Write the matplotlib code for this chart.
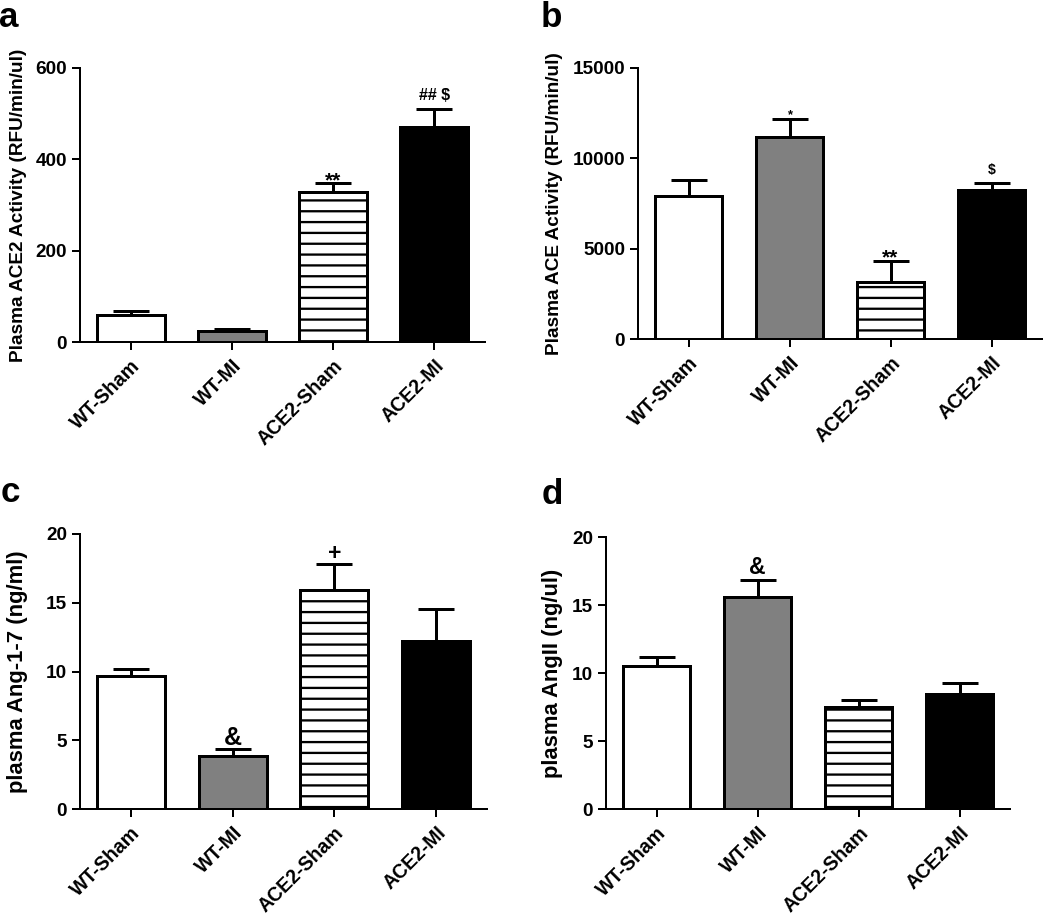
import matplotlib
matplotlib.use("Agg")
import matplotlib.pyplot as plt

# values
groups = ["WT-Sham", "WT-MI", "ACE2-Sham", "ACE2-MI"]

ace2_mean = [60, 23, 328, 470]
ace2_err = [8, 5, 20, 41]

ace_mean = [7900, 11200, 3150, 8230]
ace_err = [900, 1000, 1180, 400]

ang17_mean = [9.70, 3.83, 15.93, 12.22]
ang17_err = [0.48, 0.56, 1.89, 2.33]

ang2_mean = [10.55, 15.59, 7.47, 8.42]
ang2_err = [0.59, 1.28, 0.56, 0.81]

DPI = 130
PX = 72 / DPI  # one pixel in points

plt.rcParams["font.family"] = ["Liberation Sans", "DejaVu Sans"]
plt.rcParams["font.weight"] = "bold"
plt.rcParams["hatch.linewidth"] = 2.3 * PX
plt.rcParams["hatch.color"] = "black"

fills = ["white", "#808080", "white", "black"]
hatches = [None, None, "--", None]


def panel(fig, rect, means, errs, ymax, yticks, ylabel, ylab_size, ylab_x, marks):
    ax = fig.add_axes(rect)
    x = range(len(groups))
    ax.bar(x, means, width=0.67, color=fills, edgecolor="black",
           linewidth=3 * PX, hatch=hatches, zorder=2)
    ax.errorbar(x, means, yerr=[[0] * len(errs), errs], fmt="none",
                ecolor="black", elinewidth=3 * PX, capsize=18 * PX,
                capthick=3 * PX, zorder=1)
    for i, (txt, size, off) in enumerate(marks):
        if txt:
            ax.annotate(txt, (i, means[i] + errs[i]), xytext=(0, off * PX),
                        textcoords="offset points", ha="center", va="baseline",
                        fontsize=size * PX, fontweight="bold")
    ax.set_xlim(-0.5, 3.5)
    ax.set_ylim(0, ymax)
    ax.set_yticks(yticks)
    ax.set_xticks(list(x))
    ax.set_xticklabels(groups, rotation=45, ha="right", rotation_mode="anchor")
    for s in ["top", "right"]:
        ax.spines[s].set_visible(False)
    for s in ["left", "bottom"]:
        ax.spines[s].set_linewidth(2 * PX)
    ax.tick_params(axis="both", direction="out", length=8 * PX, width=2 * PX,
                   labelsize=19 * PX, pad=5 * PX)
    ax.tick_params(axis="x", labelsize=19.5 * PX, pad=6 * PX)
    for lab in ax.get_xticklabels() + ax.get_yticklabels():
        lab.set_fontweight("bold")
    ax.set_ylabel(ylabel, fontsize=ylab_size * PX, fontweight="bold")
    ax.yaxis.set_label_coords(ylab_x, 0.5)
    return ax


fig = plt.figure(figsize=(1050 / DPI, 917 / DPI), dpi=DPI)

panel(fig, [80 / 1050, 1 - 342 / 917, 405 / 1050, 274 / 917],
      ace2_mean, ace2_err, 600, [0, 200, 400, 600],
      "Plasma ACE2 Activity (RFU/min/ul)", 19, -0.131,
      [("", 0, 0), ("", 0, 0), ("**", 21, -3), ("## $", 16, 9)])

panel(fig, [638 / 1050, 1 - 339 / 917, 404 / 1050, 271 / 917],
      ace_mean, ace_err, 15000, [0, 5000, 10000, 15000],
      "Plasma ACE Activity (RFU/min/ul)", 19, -0.186,
      [("", 0, 0), ("*", 13, 0), ("**", 21, -3), ("$", 14, 9)])

panel(fig, [80 / 1050, 1 - 809 / 917, 407 / 1050, 275 / 917],
      ang17_mean, ang17_err, 20, [0, 5, 10, 15, 20],
      "plasma Ang-1-7 (ng/ml)", 22, -0.128,
      [("", 0, 0), ("&", 25, 4), ("+", 23, 4), ("", 0, 0)])

panel(fig, [606 / 1050, 1 - 809 / 917, 404 / 1050, 272 / 917],
      ang2_mean, ang2_err, 20, [0, 5, 10, 15, 20],
      "plasma AngII (ng/ul)", 22, -0.106,
      [("", 0, 0), ("&", 23, 6), ("", 0, 0), ("", 0, 0)])

for letter, xp, yp in [("a", -1, 27), ("b", 541, 27), ("c", 1, 502), ("d", 542, 504)]:
    fig.text(xp / 1050, 1 - yp / 917, letter, fontsize=35 * PX,
             fontweight="bold", ha="left", va="baseline")

fig.savefig("out.png", dpi=DPI)
